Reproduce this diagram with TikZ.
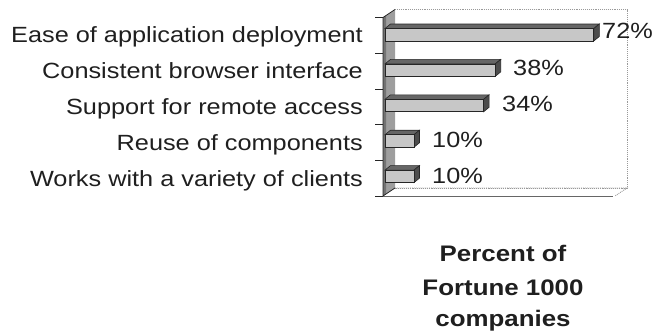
\documentclass[tikz,border=0pt]{standalone}
\usepackage{fontspec}
\setmainfont{Liberation Sans}[FakeStretch=1.15]
\begin{document}
\begin{tikzpicture}[x=1pt,y=-1pt,
  lbl/.style={font=\fontsize{22}{24}\selectfont, inner sep=0pt, text=black!88},
  ttl/.style={font=\fontsize{22.5}{24}\selectfont\bfseries, inner sep=0pt, text=black!88},
  barfront/.style={fill=black!22, draw=black!85, line width=0.8pt},
  bartop/.style={fill=black!60, draw=black!85, line width=0.6pt},
  barside/.style={fill=black!70, draw=black!85, line width=0.6pt},
  wallline/.style={draw=black!40, densely dotted, line width=0.9pt}]
\useasboundingbox (0,0) rectangle (654,333);

% back wall and floor
\draw[wallline] (395,9.5) -- (627,9.5) -- (627,188) -- (395,188);
\draw[wallline] (395,188) -- (627,188) -- (615,196);
\draw[draw=black!60, line width=0.8pt] (383,196) -- (613,196);
% left wall
\fill[black!38] (383,17.5) -- (395,9.5) -- (395,188) -- (383,196) -- cycle;
\fill[black!55] (383,17.5) -- (386,15.5) -- (386,194) -- (383,196) -- cycle;
\draw[black!85, line width=0.8pt] (395,9.5) -- (383,17.5) -- (383,196) -- (395,188);
% category ticks
\foreach \k in {0,...,5}
  \draw[black!85, line width=0.8pt] (375,17.5+35.7*\k) -- (383,17.5+35.7*\k);

% bars with their value labels
\foreach \k/\v/\lx/\lb in {0/72/602/38.5, 1/38/513/75.5, 2/34/502/111, 3/10/432/147.5, 4/10/432/183}{
  \pgfmathsetmacro{\yc}{35+35.4*\k}
  \pgfmathsetmacro{\xr}{385+2.9*\v}
  \draw[bartop] (385,\yc-6.5) -- (390.5,\yc-11) -- (\xr+5.5,\yc-11) -- (\xr,\yc-6.5) -- cycle;
  \draw[barside] (\xr,\yc-6.5) -- (\xr+5.5,\yc-11) -- (\xr+5.5,\yc+1.5) -- (\xr,\yc+6) -- cycle;
  \draw[barfront] (385,\yc-6.5) rectangle (\xr,\yc+6);
  \node[lbl, anchor=base west] (val\k) at (\lx,\lb) {\v\%};
}

% category labels
\node[lbl, anchor=base east] (c0) at (363,42.5) {Ease of application deployment};
\node[lbl, anchor=base east] (c1) at (363,78.5) {Consistent browser interface};
\node[lbl, anchor=base east] (c2) at (363,114.5) {Support for remote access};
\node[lbl, anchor=base east] (c3) at (363,150.5) {Reuse of components};
\node[lbl, anchor=base east] (c4) at (363,186.5) {Works with a variety of clients};

% axis title
\node[ttl, anchor=base] (t1) at (503,261.5) {Percent of};
\node[ttl, anchor=base] (t2) at (503,295.5) {Fortune 1000};
\node[ttl, anchor=base] (t3) at (503,326) {companies};
\end{tikzpicture}
\end{document}
